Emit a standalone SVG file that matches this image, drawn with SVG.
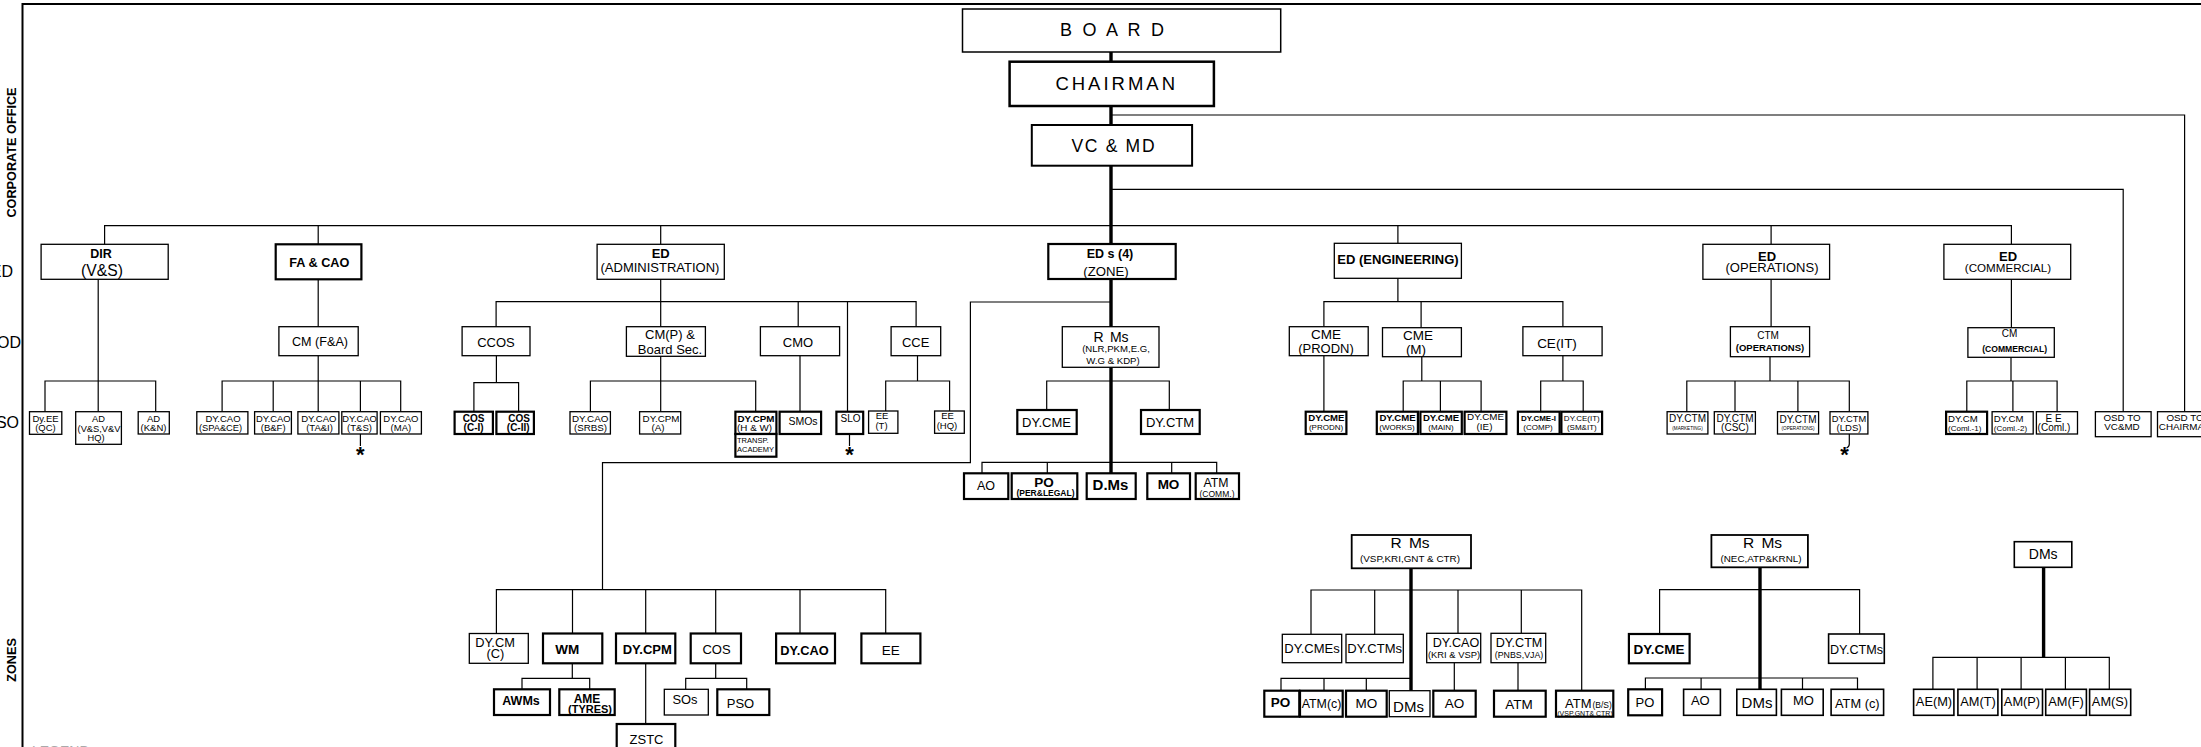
<svg xmlns="http://www.w3.org/2000/svg" width="2201" height="747" viewBox="0 0 2201 747">
<style>
text{font-family:"Liberation Sans",Arial,Helvetica,sans-serif;text-anchor:middle;fill:#000}
.bo{font-weight:bold}
.st{text-anchor:start}
rect{fill:#fff;stroke:#000;stroke-width:1.3}
rect.t{stroke-width:2.2}
.c path{fill:none;stroke:#000;stroke-width:1.2}
.c path.k{stroke-width:3.4}
.f{fill:none;stroke:#000;stroke-width:2}
</style>
<rect x="0" y="0" width="2201" height="747" style="fill:#fff;stroke:none"/>
<path class="f" d="M22.5 747V4H2201"/>
<text class="bo" font-size="12.7" transform="translate(16,152.5) rotate(-90)">CORPORATE OFFICE</text>
<text class="bo" font-size="12.7" transform="translate(16,660) rotate(-90)">ZONES</text>
<text font-size="16" x="13" y="277" style="text-anchor:end">ED</text>
<text font-size="16" x="21" y="347.5" style="text-anchor:end">OD</text>
<text font-size="16" x="19" y="427.5" style="text-anchor:end">SO</text>
<text class="st" font-size="14" x="32" y="756" style="fill:#aaa">LEGEND</text>

<g class="c" id="connectors">
<path class="k" d="M1111 52V62M1111 106V125M1111 166V244M1111 279V327M1111 362V473"/>
<path d="M1111 115H2184.6V411.7M1111 189.3H2123.2V411.7"/>
<path d="M104.6 244.3V225.7H2011.4V244.3M318.2 225.7V244.3M660.7 225.7V244.3M1397.9 225.7V243.3M1771.1 225.7V244.3"/>
<path d="M98.2 279.3V411.7M45 411.7V381H155.7V411.7"/>
<path d="M318.2 279.3V326.7M318.2 355.7V411.7M222.1 411.7V381H400.7V411.7M273.2 381V411.7M360.4 381V411.7M360.4 434V446"/>
<path d="M660.7 279.3V326.7M496.1 326.7V301.7H916.1V326.7M798.2 301.7V326.7M847.5 301.7V411.7"/>
<path d="M496.4 355.7V382.7M473.9 411.7V382.7H518.6V411.7"/>
<path d="M660.7 356.3V411.7M590.4 411.7V381H755.7V411.7"/>
<path d="M800 355.7V411.7M849.5 434V446"/>
<path d="M917.5 355.7V381M885.7 411V381H949.6V411"/>
<path d="M1111 302H970.4V462.7H602.5V589.7M496.4 633.5V589.7H885.7V633.5M572.5 589.7V633.5M645.7 589.7V633.5M715.7 589.7V633.5M800 589.7V633.5"/>
<path d="M1046.7 410V381H1169.3V410M982 473.3V462.3H1216.7V473.3M1047.3 462.3V473.3M1171.7 462.3V473.3"/>
<path d="M572.3 663.3V678.3M522 689.3V678.3H589.7V689.3M645.7 663.3V724M715.7 663.3V678.3M685.7 689.3V678.3H746.7V689.3"/>
<path d="M1397.9 278.3V301.7M1323.9 326.7V301.7H1562.9V326.7M1421.1 301.7V327.7M1323.9 355.7V411.7"/>
<path d="M1421.8 356.7V381M1403.2 411.7V381H1481.1V411.7M1440.4 381V411.7M1562.9 355.7V381M1540.7 411.7V381H1583.2V411.7"/>
<path d="M1771.1 279.3V326.7M1770 356.7V381M1686.8 411.7V381H1849.3V411.7M1735 381V411.7M1797.9 381V411.7M1849.3 434V444Q1849.3 447 1846.5 448"/>
<path d="M2011.4 279.3V327.7M2011 357.3V381M1966.8 411.7V381H2057.1V411.7M2012.9 381V411.7"/>
<path class="k" d="M1411 566V690.7M1760 566V689.3M2043.6 566V657.3"/>
<path d="M1311 634.3V590H1581.7V690.7M1374.7 590V634.3M1458 590V633.3M1521.3 590V633.3M1281 690.7V678.3H1411M1324 678.3V690.7M1366.3 678.3V690.7M1454.3 662.7V690.7M1518 662.7V690.7"/>
<path d="M1659.6 634V589.7H1859.6V634M1645.4 689.3V678H1857.5V689.3M1701.1 678V689.3M1802.5 678V689.3"/>
<path d="M1932.9 689.3V657.3H2109.3V689.3M1977.1 657.3V689.3M2021.1 657.3V689.3M2065.4 657.3V689.3"/>
</g>

<g id="stars">
<text class="bo" font-size="22" x="360.4" y="462">*</text>
<text class="bo" font-size="22" x="849.5" y="462">*</text>
<text class="bo" font-size="22" x="1844.5" y="462">*</text>
</g>

<g id="board"><rect x="962.5" y="9" width="318.2" height="43" style="stroke-width:1.5"/><text class="st" font-size="18" x="1060" y="36" letter-spacing="2.75">B O A R D</text></g>
<g id="chairman"><rect x="1009.6" y="61.7" width="204.3" height="44.3" style="stroke-width:2.5"/><text class="st" font-size="18.5" x="1055.4" y="90" letter-spacing="3">CHAIRMAN</text></g>
<g id="vcmd"><rect x="1031.8" y="125" width="160.3" height="40.7" style="stroke-width:2"/><text class="st" font-size="17.5" x="1071.4" y="152" letter-spacing="1.7">VC &amp; MD</text></g>

<g id="dir"><rect x="41.1" y="244.3" width="127.1" height="35"/><text class="bo" font-size="12.5" x="101" y="258.3">DIR</text><text font-size="15.7" x="102" y="275.5">(V&amp;S)</text></g>
<g id="facao"><rect class="t" x="275.7" y="244.3" width="85.7" height="35"/><text class="bo" font-size="12.7" x="319.3" y="266.5">FA &amp; CAO</text></g>
<g id="edadmin"><rect x="597.1" y="244.3" width="127.2" height="35"/><text class="bo" font-size="13" x="660.7" y="258.3">ED</text><text font-size="13" x="660" y="272">(ADMINISTRATION)</text></g>
<g id="edzone"><rect class="t" x="1048.3" y="244" width="127.4" height="35"/><text class="bo" font-size="12.5" x="1110" y="258.3">ED s (4)</text><text font-size="13.2" x="1106" y="275.5">(ZONE)</text></g>
<g id="edeng"><rect x="1334.3" y="243.3" width="127.1" height="35"/><text class="bo" font-size="13" x="1398" y="264.3">ED (ENGINEERING)</text></g>
<g id="edops"><rect x="1702.9" y="244.3" width="126.7" height="35"/><text class="bo" font-size="13" x="1767" y="261">ED</text><text font-size="13" x="1772" y="272.3">(OPERATIONS)</text></g>
<g id="edcomm"><rect x="1943.9" y="244.3" width="126.8" height="35"/><text class="bo" font-size="13" x="2008" y="261">ED</text><text font-size="11.6" x="2008" y="272.3">(COMMERCIAL)</text></g>

<g id="cmfa"><rect x="278.9" y="326.7" width="79.3" height="29"/><text font-size="12.6" x="320" y="346">CM (F&amp;A)</text></g>
<g id="ccos"><rect x="462.1" y="326.7" width="67.9" height="29"/><text font-size="13" x="496" y="346.5">CCOS</text></g>
<g id="cmp"><rect x="626.4" y="326.7" width="79" height="29.6"/><text font-size="13" x="670" y="339">CM(P) &amp;</text><text font-size="13" x="670" y="354">Board Sec.</text></g>
<g id="cmo"><rect x="760.4" y="326.7" width="79.2" height="29"/><text font-size="13" x="798" y="346.5">CMO</text></g>
<g id="cce"><rect x="891.1" y="326.7" width="49.6" height="29"/><text font-size="13" x="915.7" y="346.5">CCE</text></g>
<g id="cmeprodn"><rect x="1289.3" y="326.7" width="78.9" height="29"/><text font-size="13.5" x="1326" y="338.5">CME</text><text font-size="13" x="1326" y="352.5">(PRODN)</text></g>
<g id="cmem"><rect x="1382.5" y="327.7" width="78.9" height="29"/><text font-size="13.5" x="1418" y="340">CME</text><text font-size="13.5" x="1416" y="353.5">(M)</text></g>
<g id="ceit"><rect x="1522.9" y="326.7" width="79.2" height="29"/><text font-size="13.5" x="1557" y="347.5">CE(IT)</text></g>
<g id="ctmops"><rect x="1730.4" y="326.7" width="79.2" height="30"/><text font-size="10" x="1768" y="339">CTM</text><text class="bo" font-size="9.5" x="1770" y="350.5">(OPERATIONS)</text></g>
<g id="cmcomm"><rect x="1967.9" y="327.7" width="86.4" height="29.6"/><text font-size="10" x="2009.6" y="337">CM</text><text class="bo" font-size="8.6" x="2014.6" y="352">(COMMERCIAL)</text></g>

<g id="dyee"><rect x="29.5" y="411.7" width="32.3" height="22.6"/><text font-size="9.5" x="45.5" y="422">Dy.EE</text><text font-size="9.5" x="45.5" y="431">(QC)</text></g>
<g id="advs"><rect x="75.7" y="411.7" width="45.7" height="32.6"/><text font-size="9.3" x="98.5" y="422">AD</text><text font-size="9.3" x="99" y="431.5">(V&amp;S,V&amp;V</text><text font-size="9.3" x="96" y="441">HQ)</text></g>
<g id="adkn"><rect x="138.2" y="411.7" width="31.1" height="22.3"/><text font-size="9.5" x="153.5" y="422">AD</text><text font-size="9.5" x="153.5" y="431">(K&amp;N)</text></g>
<g id="dycao1"><rect x="196.8" y="411.7" width="51.1" height="22.3"/><text font-size="9.5" x="223" y="421.7">DY.CAO</text><text font-size="9.3" x="220.5" y="430.5">(SPA&amp;CE)</text></g>
<g id="dycao2"><rect x="254.6" y="411.7" width="36.8" height="22.3"/><text font-size="9.4" x="273.3" y="421.7">DY.CAO</text><text font-size="9.5" x="273.2" y="430.5">(B&amp;F)</text></g>
<g id="dycao3"><rect x="297.9" y="411.7" width="41" height="22.3"/><text font-size="9.5" x="318.8" y="421.7">DY.CAO</text><text font-size="9.5" x="319.5" y="430.5">(TA&amp;I)</text></g>
<g id="dycao4"><rect x="341.8" y="411.7" width="35.3" height="22.3"/><text font-size="9.3" x="359.5" y="421.7">DY.CAO</text><text font-size="9.5" x="359.5" y="430.5">(T&amp;S)</text></g>
<g id="dycao5"><rect x="380.4" y="411.7" width="41" height="22.3"/><text font-size="9.5" x="400.9" y="421.7">DY.CAO</text><text font-size="9.5" x="400.9" y="430.5">(MA)</text></g>
<g id="cos1"><rect class="t" x="454.6" y="411.7" width="38.3" height="22.3"/><text class="bo" font-size="10" x="473.6" y="421.5">COS</text><text class="bo" font-size="10" x="473.6" y="431">(C-I)</text></g>
<g id="cos2"><rect class="t" x="496.4" y="411.7" width="37.5" height="22.3"/><text class="bo" font-size="10" x="519" y="421.5">COS</text><text class="bo" font-size="10" x="518.2" y="431">(C-II)</text></g>
<g id="srbs"><rect x="570" y="411.7" width="40.4" height="22.3"/><text font-size="9.8" x="590.2" y="421.7">DY.CAO</text><text font-size="9.8" x="590.5" y="430.5">(SRBS)</text></g>
<g id="cpma"><rect x="639.6" y="411.7" width="41.1" height="22.3"/><text font-size="9.8" x="661" y="421.7">DY.CPM</text><text font-size="9.8" x="658" y="430.5">(A)</text></g>
<g id="cpmhw"><rect class="t" x="735.4" y="411.7" width="41" height="22.3"/><text class="bo" font-size="9.8" x="756" y="421.7">DY.CPM</text><text font-size="9.8" x="754.5" y="431">(H &amp; W)</text></g>
<g id="transp"><rect class="t" x="735.4" y="434" width="41" height="22.7"/><text class="st" font-size="7.5" x="737" y="443">TRANSP.</text><text class="st" font-size="7.5" x="737" y="452">ACADEMY</text></g>
<g id="smos"><rect class="t" x="779.6" y="411.7" width="41.5" height="22.3"/><text font-size="10.5" x="803" y="425">SMOs</text></g>
<g id="slo"><rect class="t" x="836.4" y="411.7" width="26.8" height="22.3"/><text font-size="10" x="850.5" y="421.7">SLO</text></g>
<g id="eet"><rect x="868.6" y="411" width="29.3" height="22.3"/><text font-size="9.5" x="882" y="418.5">EE</text><text font-size="9.5" x="881.5" y="428.5">(T)</text></g>
<g id="eehq"><rect x="934.6" y="411" width="29.7" height="22.3"/><text font-size="9.5" x="947.5" y="419">EE</text><text font-size="9.5" x="947" y="429">(HQ)</text></g>

<g id="dycmeprodn"><rect class="t" x="1305.7" y="411.7" width="40.7" height="22.3"/><text class="bo" font-size="9.6" x="1326.4" y="420.7">DY.CME</text><text font-size="8" x="1326" y="430">(PRODN)</text></g>
<g id="dycmeworks"><rect class="t" x="1376.8" y="411.7" width="41.1" height="22.3"/><text class="bo" font-size="9.6" x="1397.5" y="420.7">DY.CME</text><text font-size="8" x="1397" y="430">(WORKS)</text></g>
<g id="dycmemain"><rect class="t" x="1420.4" y="411.7" width="41.4" height="22.3"/><text class="bo" font-size="9.6" x="1441" y="420.7">DY.CME</text><text font-size="8" x="1441" y="430">(MAIN)</text></g>
<g id="dycmeie"><rect class="t" x="1464.6" y="411.7" width="41.8" height="22.3"/><text font-size="9.8" x="1485.5" y="419.5">DY.CME</text><text font-size="9.8" x="1484.5" y="430">(IE)</text></g>
<g id="dycmei"><rect class="t" x="1517.9" y="411.7" width="41.7" height="22.3"/><text class="bo" font-size="8" x="1538.5" y="421">DY.CME-I</text><text font-size="8" x="1538" y="430">(COMP)</text></g>
<g id="dyceit"><rect class="t" x="1561.4" y="411.7" width="40.7" height="22.3"/><text font-size="8" x="1581.8" y="421">DY.CE(IT)</text><text font-size="8" x="1581.8" y="430">(SM&amp;IT)</text></g>

<g id="ctmmkt"><rect x="1667.1" y="411.7" width="40.8" height="22.3"/><text font-size="10" x="1687.5" y="421.5">DY.CTM</text><text font-size="4.6" x="1687.5" y="429.5">(MARKETING)</text></g>
<g id="ctmcsc"><rect x="1714.3" y="411.7" width="41.1" height="22.3"/><text font-size="10" x="1735" y="421.5">DY.CTM</text><text font-size="10" x="1735" y="430.5">(CSC)</text></g>
<g id="ctmops2"><rect x="1777.5" y="411.7" width="41.1" height="22.3"/><text font-size="10" x="1798" y="422.5">DY.CTM</text><text font-size="4.6" x="1798" y="430">(OPERATIONS)</text></g>
<g id="ctmlds"><rect x="1830" y="411.7" width="37.9" height="22.3"/><text font-size="9.3" x="1849" y="421.5">DY.CTM</text><text font-size="9.5" x="1849" y="430.5">(LDS)</text></g>
<g id="dycm1"><rect class="t" x="1946.1" y="411.7" width="41" height="22.3"/><text class="st" font-size="9.6" x="1948" y="421.5">DY.CM</text><text class="st" font-size="8" x="1948" y="430.5">(Coml.-1)</text></g>
<g id="dycm2"><rect x="1992.1" y="411.7" width="41.1" height="22.3"/><text class="st" font-size="9.6" x="1993.8" y="421.5">DY.CM</text><text class="st" font-size="8" x="1993.8" y="430.5">(Coml.-2)</text></g>
<g id="eecoml"><rect x="2036.4" y="411.7" width="41.1" height="22.3"/><text font-size="10" x="2053.6" y="421.5">E E</text><text font-size="10" x="2054" y="430.5">(Coml.)</text></g>
<g id="osdvc"><rect x="2095.4" y="411.7" width="55.7" height="25"/><text font-size="9.8" x="2122" y="420.7">OSD TO</text><text font-size="9.8" x="2122" y="430">VC&amp;MD</text></g>
<g id="osdch"><rect x="2157.5" y="411.7" width="56" height="25"/><text font-size="9.8" x="2185" y="420.7">OSD TO</text><text font-size="9.8" x="2185" y="430">CHAIRMAN</text></g>

<g id="rmsnlr"><rect x="1062.3" y="326.7" width="96.7" height="40.6"/><text font-size="14" x="1111" y="342" word-spacing="2.5">R Ms</text><text font-size="9.6" x="1116" y="351.5">(NLR,PKM,E.G,</text><text font-size="9.6" x="1113" y="364">W.G &amp; KDP)</text></g>
<g id="dycmez"><rect class="t" x="1017.3" y="410" width="59.4" height="24"/><text font-size="13" x="1046.5" y="426.5">DY.CME</text></g>
<g id="dyctmz"><rect class="t" x="1141" y="410" width="58.7" height="24"/><text font-size="13" x="1170" y="426.5">DY.CTM</text></g>
<g id="aoz"><rect class="t" x="964" y="473.3" width="44.3" height="25.7"/><text font-size="12.5" x="986" y="490">AO</text></g>
<g id="poz"><rect class="t" x="1011.7" y="473.3" width="65.6" height="25.7"/><text class="bo" font-size="13.5" x="1044" y="486.5">PO</text><text class="bo" font-size="8.5" x="1045.5" y="496">(PER&amp;LEGAL)</text></g>
<g id="dmsz"><rect class="t" x="1086.7" y="473.3" width="49" height="25.7"/><text class="bo" font-size="15" x="1110.5" y="489.5">D.Ms</text></g>
<g id="moz"><rect class="t" x="1147.3" y="473.3" width="42.7" height="25.7"/><text class="bo" font-size="13.5" x="1168.5" y="489">MO</text></g>
<g id="atmz"><rect class="t" x="1195.7" y="473.3" width="43.3" height="25.7"/><text font-size="12.3" x="1216" y="487.3">ATM</text><text font-size="8.5" x="1217" y="496.5">(COMM.)</text></g>

<g id="dycmc"><rect x="469.3" y="633.5" width="59" height="29.8"/><text font-size="12.8" x="495" y="646.5">DY.CM</text><text font-size="12.8" x="495.5" y="658">(C)</text></g>
<g id="wm"><rect class="t" x="543" y="633.5" width="59.3" height="29.8"/><text class="bo" font-size="13.5" x="567.3" y="653.5">WM</text></g>
<g id="dycpmz"><rect class="t" x="616" y="633.5" width="59.3" height="29.8"/><text class="bo" font-size="13" x="647.3" y="653.5">DY.CPM</text></g>
<g id="cosz"><rect class="t" x="690.7" y="633.5" width="50.3" height="29.8"/><text font-size="13" x="716.5" y="654">COS</text></g>
<g id="dycaoz"><rect class="t" x="776.1" y="633.5" width="58.9" height="29.8"/><text class="bo" font-size="12.8" x="804.5" y="655">DY.CAO</text></g>
<g id="eez"><rect class="t" x="861.4" y="633.5" width="59" height="29.8"/><text font-size="13.5" x="890.7" y="655">EE</text></g>
<g id="awms"><rect class="t" x="494" y="689.3" width="56" height="25.7"/><text class="bo" font-size="12.5" x="521" y="704.5">AWMs</text></g>
<g id="ame"><rect class="t" x="559.3" y="689.3" width="55.4" height="25.7"/><text class="bo" font-size="12" x="587" y="702.5">AME</text><text class="bo" font-size="11" x="590" y="713">(TYRES)</text></g>
<g id="sos"><rect x="664.3" y="689.3" width="44" height="25.7"/><text font-size="12.9" x="685" y="704">SOs</text></g>
<g id="pso"><rect class="t" x="717.3" y="689.3" width="52" height="25.7"/><text font-size="13" x="740.5" y="708.3">PSO</text></g>
<g id="zstc"><rect class="t" x="616.7" y="724" width="58.6" height="30"/><text font-size="13" x="646.5" y="744">ZSTC</text></g>

<g id="rmsvsp"><rect class="t" x="1351.7" y="535" width="119.3" height="33.3" style="stroke-width:1.8"/><text font-size="15.5" x="1410" y="548" word-spacing="3">R Ms</text><text font-size="9.9" x="1410" y="561.5">(VSP,KRI,GNT &amp; CTR)</text></g>
<g id="dycmes"><rect x="1282.3" y="634.3" width="59.4" height="28.4"/><text font-size="13" x="1312" y="652.7">DY.CMEs</text></g>
<g id="dyctms"><rect x="1346" y="634.3" width="57.3" height="28.4"/><text font-size="13" x="1374.7" y="652.7">DY.CTMs</text></g>
<g id="dycaov"><rect x="1426.7" y="633.3" width="54" height="29.4"/><text font-size="12.6" x="1456" y="646.5">DY.CAO</text><text font-size="9.4" x="1454" y="658.3">(KRI &amp; VSP)</text></g>
<g id="dyctmp"><rect x="1491" y="633.3" width="54.7" height="29.4"/><text font-size="12.6" x="1519" y="646.5">DY.CTM</text><text font-size="8.8" x="1519" y="658">(PNBS,VJA)</text></g>
<g id="atmbs"><rect class="t" x="1556" y="690.7" width="57.3" height="26"/><text class="st" x="1565" y="707.5"><tspan font-size="13">ATM</tspan><tspan font-size="8.5" dx="1">(B/S)</tspan></text><text font-size="7" x="1585" y="716">(VSP,GNT&amp; CTR)</text></g>
<g id="poy"><rect class="t" x="1264.3" y="690.7" width="35" height="26"/><text class="bo" font-size="13.5" x="1280.5" y="707">PO</text></g>
<g id="atmcv"><rect class="t" x="1300" y="690.7" width="42.7" height="26"/><text font-size="12.4" x="1321.5" y="708">ATM(c)</text></g>
<g id="mov"><rect class="t" x="1346" y="690.7" width="40.7" height="26"/><text font-size="13.5" x="1366.3" y="708">MO</text></g>
<g id="dmsv"><rect x="1389.3" y="690.7" width="40.7" height="26"/><text font-size="15" x="1408.5" y="711.5">DMs</text></g>
<g id="aov"><rect class="t" x="1433.3" y="690.7" width="42.4" height="26"/><text font-size="13.5" x="1454.5" y="707.5">AO</text></g>
<g id="atmv"><rect class="t" x="1494" y="690.7" width="51.7" height="26"/><text font-size="13.5" x="1519" y="709">ATM</text></g>

<g id="rmsnec"><rect class="t" x="1711.4" y="535" width="96.5" height="32.3" style="stroke-width:1.8"/><text font-size="15.5" x="1762.5" y="548" word-spacing="3">R Ms</text><text font-size="9.8" x="1761" y="561.5">(NEC,ATP&amp;KRNL)</text></g>
<g id="dycmen"><rect class="t" x="1628.9" y="634" width="60.7" height="29.3"/><text class="bo" font-size="13.5" x="1659" y="654">DY.CME</text></g>
<g id="dyctmsn"><rect class="t" x="1828.6" y="634" width="55.7" height="29.3" style="stroke-width:1.6"/><text font-size="12.6" x="1856.5" y="654">DY.CTMs</text></g>
<g id="pon"><rect class="t" x="1628.2" y="689.3" width="33.9" height="26"/><text font-size="13" x="1645" y="707">PO</text></g>
<g id="aon"><rect class="t" x="1683.6" y="689.3" width="36.8" height="26" style="stroke-width:1.6"/><text font-size="13" x="1700.3" y="705">AO</text></g>
<g id="dmsn"><rect class="t" x="1736.8" y="689.3" width="39.6" height="26" style="stroke-width:1.6"/><text font-size="15" x="1757" y="707.7">DMs</text></g>
<g id="mon"><rect class="t" x="1781.4" y="689.3" width="41.8" height="26" style="stroke-width:1.6"/><text font-size="13" x="1803.4" y="705">MO</text></g>
<g id="atmcn"><rect class="t" x="1831.1" y="689.3" width="52.5" height="26" style="stroke-width:1.6"/><text font-size="12.8" x="1857.3" y="707.5">ATM (c)</text></g>
<g id="dmsr"><rect class="t" x="2014.3" y="541.7" width="57.5" height="25.6" style="stroke-width:1.6"/><text font-size="14" x="2043.2" y="559">DMs</text></g>
<g id="aem"><rect class="t" x="1913.6" y="689.3" width="40.3" height="26" style="stroke-width:1.6"/><text font-size="12.8" x="1934" y="705.5">AE(M)</text></g>
<g id="amt"><rect class="t" x="1957.9" y="689.3" width="40" height="26" style="stroke-width:1.6"/><text font-size="12.8" x="1978" y="705.5">AM(T)</text></g>
<g id="amp"><rect class="t" x="2001.8" y="689.3" width="40.7" height="26" style="stroke-width:1.6"/><text font-size="12.8" x="2022" y="705.5">AM(P)</text></g>
<g id="amf"><rect class="t" x="2045.7" y="689.3" width="40.7" height="26" style="stroke-width:1.6"/><text font-size="12.8" x="2066" y="705.5">AM(F)</text></g>
<g id="ams"><rect class="t" x="2089.6" y="689.3" width="41.1" height="26" style="stroke-width:1.6"/><text font-size="12.8" x="2110" y="705.5">AM(S)</text></g>
</svg>
